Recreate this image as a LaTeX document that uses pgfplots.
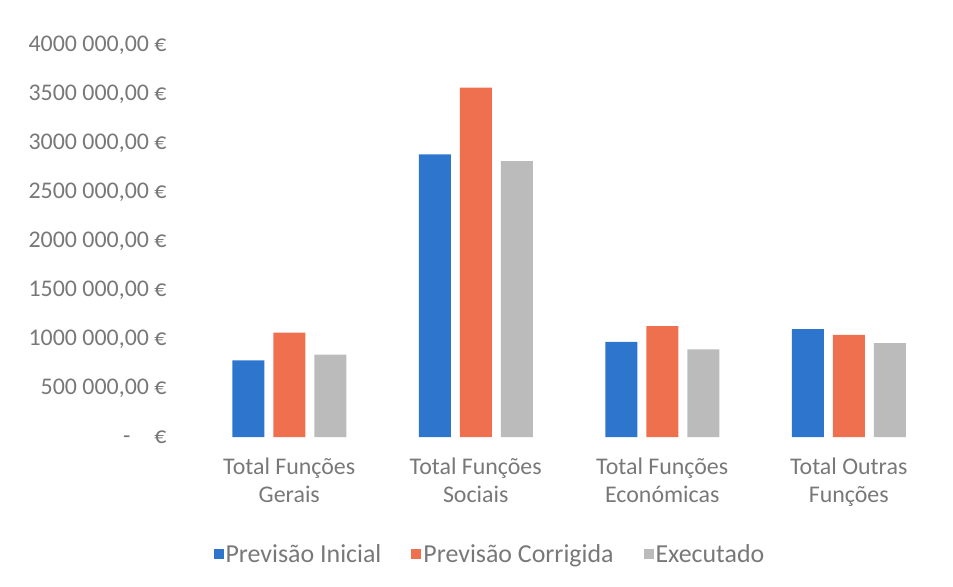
\documentclass[border=0pt]{standalone}
\usepackage{pgfplots}
\pgfplotsset{compat=1.18}
\usepackage{fontspec}
\setmainfont{Carlito}
\definecolor{cblue}{RGB}{46,117,206}
\definecolor{corange}{RGB}{238,112,78}
\definecolor{cgray}{RGB}{187,187,187}
\definecolor{ctext}{RGB}{120,120,120}
\begin{document}
\begin{tikzpicture}[x=1bp,y=1bp]
\useasboundingbox (0,0) rectangle (953,-587);
\begin{axis}[
  at={(196bp,-437bp)}, anchor=south west,
  scale only axis, width=746bp, height=392bp,
  xmin=-0.5, xmax=3.5, ymin=0, ymax=4000000,
  scaled y ticks=false,
  axis line style={draw=none}, major tick length=0pt,
  ytick={0,500000,1000000,1500000,2000000,2500000,3000000,3500000,4000000},
  yticklabels={{-\hspace{1em}€},{500 000,00 €},{1000 000,00 €},{1500 000,00 €},{2000 000,00 €},{2500 000,00 €},{3000 000,00 €},{3500 000,00 €},{4000 000,00 €}},
  xtick={0,1,2,3},
  xticklabels={{Total Funções\\Gerais},{Total Funções\\Sociais},{Total Funções\\Económicas},{Total Outras\\Funções}},
  xticklabel style={align=center, font=\fontsize{24}{28}\selectfont, text=ctext, yshift=-17bp},
  yticklabel style={font=\fontsize{24}{26}\selectfont, text=ctext, xshift=-26bp},
  ybar, bar width=32bp,
  legend columns=3,
  legend style={at={(0.394,-0.298)}, anchor=center, draw=none, fill=none,
    font=\fontsize{26}{28}\selectfont, text=ctext,
    /tikz/every even column/.append style={column sep=28bp}},
  legend image code/.code={\fill[#1] (0bp,-5bp) rectangle (10bp,5bp);},
]
\addplot[fill=cblue, draw=none, bar shift=-41bp] coordinates {(0,783000) (1,2884000) (2,970000) (3,1100000)};
\addplot[fill=corange, draw=none, bar shift=0bp] coordinates {(0,1066000) (1,3564000) (2,1131000) (3,1042000)};
\addplot[fill=cgray, draw=none, bar shift=41bp] coordinates {(0,841000) (1,2816000) (2,893000) (3,957000)};
\legend{Previsão Inicial, Previsão Corrigida, Executado}
\end{axis}
\end{tikzpicture}
\end{document}
